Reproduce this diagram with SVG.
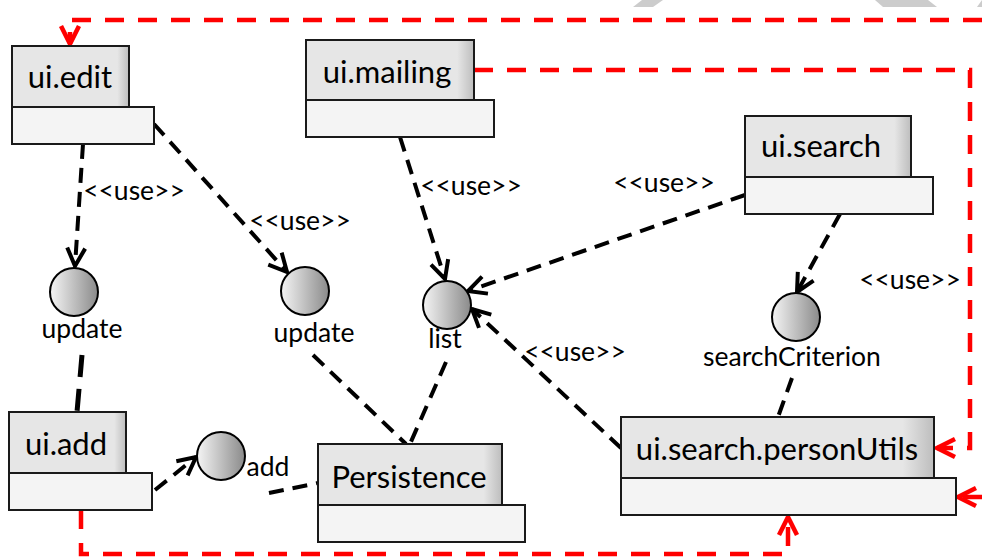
<svg xmlns="http://www.w3.org/2000/svg" width="982" height="560" viewBox="0 0 982 560">
<defs>
<style>
.head{stroke:#1a1a1a;stroke-width:2;fill:url(#gHead)}
.body{stroke:#1a1a1a;stroke-width:2;fill:#f4f4f4}
.big{font-family:Lato,"Open Sans",sans-serif;font-size:31px;fill:#000;text-anchor:middle}
.sm{font-family:Lato,"Open Sans",sans-serif;font-size:26.5px;fill:#000;text-anchor:middle}
.iface{stroke:#000;stroke-width:2;fill:url(#gBall)}
.dep{fill:none;stroke:#000;stroke-width:4;stroke-dasharray:15 9}
.red{fill:none;stroke:#ff0000;stroke-width:4.5;stroke-dasharray:19 14}
.wm{fill:#cccccc}
</style>
<linearGradient id="gHead" x1="0" y1="0" x2="1" y2="0">
<stop offset="0" stop-color="#e6e6e6"/>
<stop offset="0.9" stop-color="#e6e6e6"/>
<stop offset="1" stop-color="#bdbdbd"/>
</linearGradient>
<linearGradient id="gBall" x1="0" y1="0" x2="1" y2="0">
<stop offset="0" stop-color="#f5f5f5"/>
<stop offset="1" stop-color="#8a8a8a"/>
</linearGradient>
<marker id="arrB" markerUnits="userSpaceOnUse" viewBox="-22 -12 26 24" refX="0" refY="0" markerWidth="26" markerHeight="24" orient="auto" overflow="visible">
<path d="M-18,-9 L0,0 L-18,9" fill="none" stroke="#000" stroke-width="4" stroke-dasharray="none"/>
</marker>
<marker id="arrR" markerUnits="userSpaceOnUse" viewBox="-22 -12 26 24" refX="0" refY="0" markerWidth="26" markerHeight="24" orient="auto" overflow="visible">
<path d="M-18,-9 L0,0 L-18,9" fill="none" stroke="#ff0000" stroke-width="4.5" stroke-dasharray="none"/>
</marker>
</defs>
<rect width="982" height="560" fill="#ffffff"/>
<g id="watermark">
<polygon class="wm" points="642,0 663,0 653,7 633,7"/>
<polygon class="wm" points="875,0 928,0 937,7 883,7"/>
<polygon class="wm" points="982,0 982,7 977,7"/>
</g>
<g id="connectors">
<path class="red" d="M982,20 H70 V44" marker-end="url(#arrR)"/>
<path class="red" d="M474,70 H970 V448 H937" marker-end="url(#arrR)"/>
<path class="red" d="M982,497 H958" marker-end="url(#arrR)"/>
<path class="red" d="M81,510 V554 H788 V517" marker-end="url(#arrR)"/>
<path class="dep" d="M83,144 L75,266" marker-end="url(#arrB)"/>
<path class="dep" d="M154,124 L287,272" marker-end="url(#arrB)"/>
<path class="dep" d="M400,137 L445,279" marker-end="url(#arrB)"/>
<path class="dep" d="M745,195 L468,291" marker-end="url(#arrB)"/>
<path class="dep" d="M840,214 L797,292" marker-end="url(#arrB)"/>
<path class="dep" d="M621,448 L472,309" marker-end="url(#arrB)"/>
<path class="dep" d="M792,378 L778,417"/>
<path class="dep" d="M82,355 L77,412" style="stroke-width:5;stroke-dasharray:22 12"/>
<path class="dep" d="M313,355 L406,444"/>
<path class="dep" d="M446,362 L410,444"/>
<path class="dep" d="M155,490 L196,457" marker-end="url(#arrB)"/>
<path class="dep" d="M269,493 L318,483"/>
</g>
<g id="ui.edit">
<rect class="head" x="12" y="46" width="117" height="61"/>
<rect class="body" x="12" y="107" width="142" height="37"/>
<text class="big" x="70" y="88">ui.edit</text>
</g>
<g id="ui.mailing">
<rect class="head" x="306" y="40" width="168" height="60"/>
<rect class="body" x="306" y="100" width="188" height="37"/>
<text class="big" x="387" y="83">ui.mailing</text>
</g>
<g id="ui.search">
<rect class="head" x="745" y="116" width="166" height="61"/>
<rect class="body" x="745" y="177" width="188" height="37"/>
<text class="big" x="821" y="157">ui.search</text>
</g>
<g id="ui.add">
<rect class="head" x="9" y="412" width="117" height="61"/>
<rect class="body" x="9" y="473" width="143" height="37"/>
<text class="big" x="66" y="455">ui.add</text>
</g>
<g id="Persistence">
<rect class="head" x="318" y="444" width="184" height="61"/>
<rect class="body" x="318" y="505" width="207" height="37"/>
<text class="big" x="409" y="488">Persistence</text>
</g>
<g id="ui.search.personUtils">
<rect class="head" x="621" y="417" width="313" height="61"/>
<rect class="body" x="621" y="478" width="335" height="37"/>
<text class="big" x="777" y="460">ui.search.personUtils</text>
</g>
<g id="iface-update1">
<circle class="iface" cx="74" cy="292" r="24"/>
<text class="sm" x="82" y="338">update</text>
</g>
<g id="iface-update2">
<circle class="iface" cx="305" cy="291" r="24"/>
<text class="sm" x="314" y="342">update</text>
</g>
<g id="iface-list">
<circle class="iface" cx="447" cy="305" r="24"/>
<text class="sm" x="445" y="348">list</text>
</g>
<g id="iface-searchCriterion">
<circle class="iface" cx="796" cy="317" r="24"/>
<text class="sm" x="792" y="366">searchCriterion</text>
</g>
<g id="iface-add">
<circle class="iface" cx="221" cy="456" r="24"/>
<text class="sm" x="268" y="476">add</text>
</g>
<g id="labels">
<text class="sm" x="134" y="200">&lt;&lt;use&gt;&gt;</text>
<text class="sm" x="300" y="230">&lt;&lt;use&gt;&gt;</text>
<text class="sm" x="471" y="195">&lt;&lt;use&gt;&gt;</text>
<text class="sm" x="664" y="192">&lt;&lt;use&gt;&gt;</text>
<text class="sm" x="910" y="289">&lt;&lt;use&gt;&gt;</text>
<text class="sm" x="575" y="361">&lt;&lt;use&gt;&gt;</text>
</g>
</svg>
